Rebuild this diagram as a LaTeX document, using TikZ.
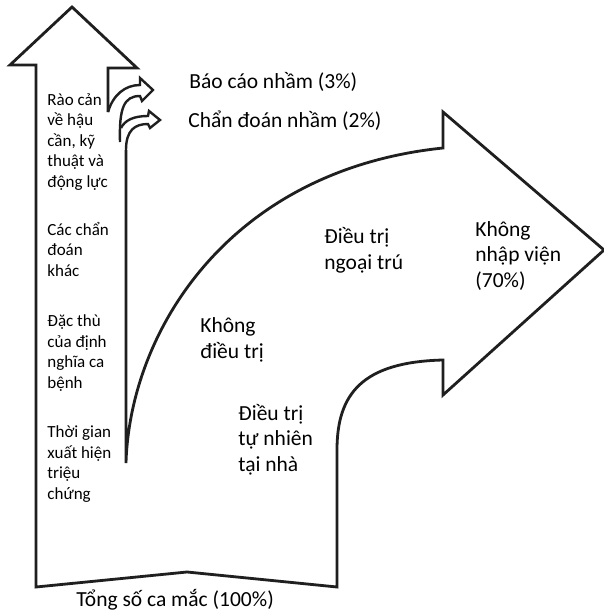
\documentclass[tikz,border=0pt]{standalone}
\usepackage{fontspec}
\setmainfont{Carlito}
\begin{document}
\begin{tikzpicture}[x=1pt, y=-1pt, line width=2.8pt, line join=miter,
  outline/.style = {draw=black!88},
  side/.style = {anchor=base west, align=left, inner sep=0pt, font=\fontsize{17}{20.5}\selectfont},
  main/.style = {anchor=base west, align=left, inner sep=0pt, font=\fontsize{21.5}{25.5}\selectfont}]
\useasboundingbox[fill=white] (0,0) rectangle (604,613);
% big arrows
\draw[outline] (108,112) -- (108,68) -- (137,68) -- (72,7) -- (10,65) -- (36,65)
  -- (36,587) -- (187,572) -- (337,587) -- (337,450)
  .. controls (337,394) and (362,362) .. (443,360) -- (443,395) -- (604,250)
  -- (443,112) -- (443,148) .. controls (230,170) and (130,330) .. (126,463)
  -- (126,150);
% small arrows
\draw[outline, line width=2.4pt] (108,112) .. controls (113,95) and (125,85) .. (140,85)
  -- (140,78) -- (153,90) -- (142,101) -- (140,96)
  .. controls (124,96) and (119,108) .. (120,142);
\draw[outline, line width=2.4pt] (121,128) .. controls (125,120) and (134,116) .. (148,116)
  -- (149,111) -- (160,120) -- (150,128) -- (148,124)
  .. controls (135,124) and (126,130) .. (126,150);
% labels (anchored at the last line)
\node[main] (1) at (188,88) {Báo cáo nhầm (3\%)};
\node[main] (2) at (187,127) {Chẩn đoán nhầm (2\%)};
\node[side] (3) at (46,187) {Rào cản\\về hậu\\cần, kỹ\\thuật và\\động lực};
\node[side] (4) at (46,276) {Các chẩn\\đoán\\khác};
\node[side] (5) at (46,388) {Đặc thù\\của định\\nghĩa ca\\bệnh};
\node[side] (6) at (46,499) {Thời gian\\xuất hiện\\triệu\\chứng};
\node[main] (7) at (199,358) {Không\\điều trị};
\node[main] (8) at (237,471) {Điều trị\\tự nhiên\\tại nhà};
\node[main] (9) at (323,269) {Điều trị\\ngoại trú};
\node[main] (10) at (474,287) {Không\\nhập viện\\(70\%)};
\node[main] (11) at (75,606) {Tổng số ca mắc (100\%)};
\end{tikzpicture}
\end{document}
